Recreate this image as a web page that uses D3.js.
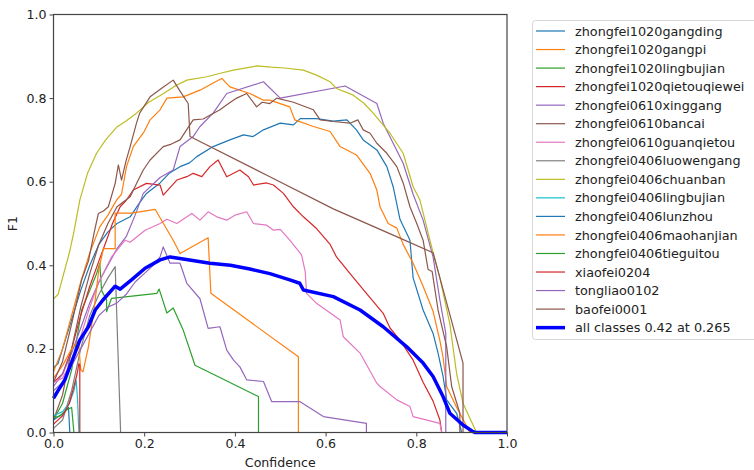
<!DOCTYPE html>
<html>
<head>
<meta charset="utf-8">
<script src="https://cdn.jsdelivr.net/npm/d3@7"></script>
<style>
  body { margin: 0; background: #fff; }
  text { font-family: "DejaVu Sans", sans-serif; }
</style>
</head>
<body>
<script>
// F1 - confidence curves, one per class + mean curve
const classNames = [
  "zhongfei1020gangding", "zhongfei1020gangpi", "zhongfei1020lingbujian", "zhongfei1020qietouqiewei",
  "zhongfei0610xinggang", "zhongfei0610bancai", "zhongfei0610guanqietou", "zhongfei0406luowengang",
  "zhongfei0406chuanban", "zhongfei0406lingbujian", "zhongfei0406lunzhou", "zhongfei0406maohanjian",
  "zhongfei0406tieguitou", "xiaofei0204", "tongliao0102", "baofei0001"
]
const allLabel = "all classes 0.42 at 0.265"

const gangding = [[0,0.155],[0.01,0.165],[0.02,0.2],[0.04,0.27],[0.06,0.34],[0.08,0.4],[0.1,0.45],[0.12,0.48],[0.14,0.5],[0.169,0.516],[0.19,0.55],[0.205,0.572],[0.235,0.597],[0.255,0.62],[0.279,0.636],[0.3,0.645],[0.316,0.66],[0.352,0.684],[0.389,0.70],[0.419,0.712],[0.44,0.708],[0.463,0.724],[0.5,0.74],[0.529,0.736],[0.544,0.751],[0.58,0.751],[0.617,0.745],[0.647,0.748],[0.668,0.724],[0.683,0.70],[0.713,0.676],[0.735,0.636],[0.749,0.588],[0.764,0.51],[0.779,0.476],[0.786,0.46],[0.793,0.37],[0.815,0.293],[0.837,0.237],[0.848,0.19],[0.859,0.134],[0.867,0.078],[0.889,0.046],[0.9,0],[1,0]]
const gangpi = [[0,0.145],[0.02,0.2],[0.04,0.28],[0.06,0.36],[0.08,0.43],[0.102,0.492],[0.12,0.52],[0.139,0.556],[0.15,0.57],[0.161,0.636],[0.176,0.684],[0.2,0.72],[0.213,0.748],[0.235,0.772],[0.25,0.8],[0.286,0.803],[0.323,0.819],[0.352,0.836],[0.371,0.847],[0.389,0.827],[0.433,0.811],[0.463,0.795],[0.477,0.795],[0.521,0.779],[0.532,0.748],[0.573,0.732],[0.61,0.72],[0.632,0.684],[0.668,0.664],[0.698,0.62],[0.713,0.58],[0.72,0.54],[0.738,0.5],[0.757,0.489],[0.771,0.45],[0.793,0.405],[0.815,0.35],[0.837,0.29],[0.852,0.22],[0.859,0.18],[0.867,0.11],[0.889,0.06],[0.911,0.015],[0.918,0],[1,0]]
const lingbujian = [[0,0.03],[0.02,0.07],[0.04,0.15],[0.062,0.293],[0.08,0.34],[0.095,0.38],[0.102,0.405],[0.106,0.34],[0.117,0.317],[0.117,0.289],[0.128,0.321],[0.228,0.333],[0.233,0.343],[0.25,0.286],[0.264,0.298],[0.286,0.245],[0.312,0.161],[0.452,0.086],[0.452,0],[1,0]]
const qietouqiewei = [[0,0.12],[0.02,0.14],[0.04,0.2],[0.06,0.28],[0.08,0.35],[0.1,0.41],[0.117,0.46],[0.13,0.5],[0.147,0.54],[0.16,0.555],[0.176,0.58],[0.205,0.596],[0.235,0.592],[0.242,0.568],[0.272,0.604],[0.294,0.612],[0.308,0.62],[0.327,0.612],[0.345,0.636],[0.363,0.652],[0.382,0.612],[0.411,0.628],[0.43,0.612],[0.441,0.592],[0.47,0.597],[0.485,0.592],[0.507,0.572],[0.529,0.54],[0.551,0.516],[0.58,0.488],[0.61,0.45],[0.624,0.42],[0.654,0.38],[0.69,0.333],[0.727,0.285],[0.742,0.25],[0.764,0.221],[0.793,0.173],[0.815,0.12],[0.837,0.075],[0.852,0.03],[0.856,0],[1,0]]
const xinggang = [[0,0.11],[0.02,0.14],[0.04,0.19],[0.06,0.25],[0.08,0.31],[0.1,0.36],[0.12,0.4],[0.14,0.44],[0.161,0.47],[0.18,0.52],[0.198,0.572],[0.235,0.61],[0.264,0.628],[0.279,0.684],[0.308,0.708],[0.323,0.732],[0.352,0.764],[0.382,0.811],[0.463,0.839],[0.5,0.8],[0.643,0.829],[0.713,0.787],[0.727,0.74],[0.771,0.644],[0.793,0.57],[0.815,0.508],[0.837,0.42],[0.852,0.317],[0.865,0.237],[0.865,0],[1,0]]
const bancai = [[0,0.03],[0.02,0.09],[0.04,0.2],[0.06,0.3],[0.08,0.38],[0.1,0.45],[0.12,0.5],[0.14,0.54],[0.169,0.564],[0.185,0.6],[0.198,0.628],[0.213,0.652],[0.242,0.684],[0.26,0.69],[0.279,0.70],[0.308,0.748],[0.33,0.75],[0.367,0.772],[0.39,0.79],[0.404,0.80],[0.426,0.811],[0.448,0.779],[0.46,0.79],[0.477,0.787],[0.492,0.80],[0.529,0.79],[0.573,0.772],[0.588,0.748],[0.617,0.744],[0.654,0.74],[0.671,0.748],[0.683,0.724],[0.698,0.716],[0.713,0.692],[0.735,0.668],[0.757,0.636],[0.771,0.597],[0.786,0.54],[0.801,0.5],[0.815,0.46],[0.826,0.39],[0.835,0.385],[0.848,0.293],[0.867,0.205],[0.878,0.11],[0.896,0.046],[0.896,0],[1,0]]
const guanqietou = [[0,0.12],[0.02,0.13],[0.04,0.17],[0.06,0.23],[0.08,0.3],[0.1,0.36],[0.128,0.42],[0.158,0.46],[0.169,0.455],[0.202,0.484],[0.235,0.5],[0.25,0.51],[0.272,0.5],[0.305,0.524],[0.323,0.508],[0.341,0.528],[0.36,0.516],[0.382,0.508],[0.4,0.52],[0.426,0.528],[0.441,0.5],[0.47,0.496],[0.485,0.484],[0.5,0.486],[0.521,0.46],[0.547,0.425],[0.555,0.385],[0.558,0.333],[0.58,0.309],[0.632,0.269],[0.639,0.229],[0.676,0.19],[0.713,0.118],[0.72,0.11],[0.757,0.078],[0.786,0.062],[0.793,0.038],[0.852,0.022],[0.856,0],[1,0]]
const luowengang = [[0,0.01],[0.02,0.03],[0.04,0.1],[0.06,0.2],[0.08,0.28],[0.1,0.33],[0.12,0.37],[0.136,0.397],[0.148,0],[1,0]]
const chuanban = [[0,0.32],[0.01,0.33],[0.02,0.37],[0.035,0.43],[0.045,0.48],[0.058,0.556],[0.075,0.62],[0.095,0.668],[0.115,0.70],[0.139,0.73],[0.16,0.745],[0.183,0.764],[0.21,0.79],[0.241,0.81],[0.27,0.83],[0.294,0.843],[0.338,0.851],[0.37,0.86],[0.397,0.867],[0.448,0.877],[0.48,0.874],[0.51,0.872],[0.551,0.867],[0.58,0.855],[0.61,0.839],[0.624,0.823],[0.661,0.807],[0.685,0.787],[0.705,0.764],[0.742,0.716],[0.771,0.668],[0.793,0.588],[0.808,0.556],[0.837,0.43],[0.852,0.37],[0.874,0.26],[0.889,0.14],[0.903,0.07],[0.92,0.03],[0.933,0],[1,0]]
const lingbujian0406 = [[0,0.04],[0.02,0.05],[0.035,0.07],[0.045,0.1],[0.05,0.125],[0.053,0.08],[0.056,0],[1,0]]
const lunzhou = [[0,0.03],[0.02,0.045],[0.033,0.06],[0.036,0],[1,0]]
const maohanjian = [[0,0.13],[0.02,0.16],[0.04,0.2],[0.055,0.22],[0.06,0.15],[0.065,0.145],[0.077,0.205],[0.09,0.3],[0.1,0.39],[0.11,0.44],[0.136,0.44],[0.136,0.525],[0.172,0.525],[0.224,0.534],[0.264,0.46],[0.279,0.428],[0.341,0.466],[0.347,0.333],[0.54,0.181],[0.54,0],[1,0]]
const tieguitou = [[0,0.035],[0.015,0.04],[0.03,0.055],[0.04,0.06],[0.045,0],[1,0]]
const xiaofei = [[0,0.02],[0.02,0.04],[0.035,0.07],[0.045,0.11],[0.052,0.14],[0.056,0.165],[0.058,0.16],[0.058,0],[1,0]]
const tongliao = [[0,0.1],[0.02,0.12],[0.04,0.16],[0.06,0.2],[0.08,0.24],[0.1,0.28],[0.12,0.3],[0.14,0.31],[0.16,0.33],[0.18,0.36],[0.2,0.38],[0.22,0.4],[0.235,0.42],[0.242,0.444],[0.257,0.405],[0.279,0.405],[0.294,0.357],[0.323,0.32],[0.341,0.249],[0.367,0.253],[0.382,0.197],[0.397,0.173],[0.411,0.157],[0.426,0.126],[0.463,0.122],[0.481,0.074],[0.543,0.074],[0.595,0.038],[0.69,0.022],[0.69,0],[1,0]]
const baofei = [[0,0.12],[0.02,0.17],[0.04,0.26],[0.062,0.365],[0.077,0.41],[0.09,0.48],[0.099,0.524],[0.11,0.53],[0.121,0.54],[0.136,0.596],[0.143,0.64],[0.15,0.604],[0.16,0.65],[0.169,0.684],[0.183,0.74],[0.19,0.764],[0.213,0.803],[0.24,0.825],[0.264,0.843],[0.28,0.815],[0.297,0.787],[0.301,0.708],[0.477,0.612],[0.617,0.535],[0.764,0.465],[0.837,0.43],[0.903,0.166],[0.903,0],[1,0]]
const allClasses = [[0,0.082],[0.01,0.1],[0.025,0.126],[0.047,0.189],[0.058,0.221],[0.077,0.253],[0.092,0.293],[0.109,0.317],[0.136,0.35],[0.147,0.343],[0.172,0.365],[0.202,0.393],[0.235,0.413],[0.257,0.42],[0.286,0.415],[0.345,0.405],[0.39,0.40],[0.433,0.391],[0.477,0.38],[0.521,0.365],[0.543,0.357],[0.551,0.341],[0.617,0.325],[0.676,0.293],[0.727,0.253],[0.779,0.205],[0.815,0.166],[0.837,0.134],[0.859,0.086],[0.874,0.046],[0.903,0.018],[0.925,0.002],[0.93,0],[1,0]]

const series = [gangding, gangpi, lingbujian, qietouqiewei, xinggang, bancai, guanqietou, luowengang,
  chuanban, lingbujian0406, lunzhou, maohanjian, tieguitou, xiaofei, tongliao, baofei]
const xTicks = [0, 0.2, 0.4, 0.6, 0.8, 1.0]
const yTicks = [0, 0.2, 0.4, 0.6, 0.8, 1.0]

const tab10 = ["#1f77b4", "#ff7f0e", "#2ca02c", "#d62728", "#9467bd", "#8c564b", "#e377c2", "#7f7f7f", "#bcbd22", "#17becf"]
const [width, height] = [754, 470]

const x = d3.scaleLinear().domain([0, 1]).range([53.5, 507])
const y = d3.scaleLinear().domain([0, 1]).range([432.5, 14.5])

const svg = d3.select("body").append("svg")
    .attr("width", width)
    .attr("height", height)

const line = d3.line().x(d => x(d[0])).y(d => y(d[1]))

// class curves
svg.append("g")
  .selectAll("path")
  .data(series)
  .join("path")
    .attr("d", line)
    .attr("fill", "none")
    .attr("stroke", (d, i) => tab10[i % 10])
    .attr("stroke-width", 1.2)
    .attr("stroke-linejoin", "round")

svg.append("path")
    .datum(allClasses)
    .attr("d", line)
    .attr("fill", "none")
    .attr("stroke", "#0000ff")
    .attr("stroke-width", 3.5)
    .attr("stroke-linejoin", "round")

// frame
svg.append("rect")
    .attr("x", x(0)).attr("y", y(1))
    .attr("width", x(1) - x(0)).attr("height", y(0) - y(1))
    .attr("fill", "none")
    .attr("stroke", "#444")
    .attr("stroke-width", 1.2)

const fmt = d3.format(".1f")
const xAxis = svg.append("g")
    .attr("transform", `translate(0,${y(0)})`)
    .call(d3.axisBottom(x).tickValues(xTicks).tickFormat(fmt).tickSize(4).tickPadding(3).tickSizeOuter(0))
const yAxis = svg.append("g")
    .attr("transform", `translate(${x(0)},0)`)
    .call(d3.axisLeft(y).tickValues(yTicks).tickFormat(fmt).tickSize(4).tickPadding(3).tickSizeOuter(0))

for (const ax of [xAxis, yAxis]) {
  ax.select(".domain").remove()
  ax.selectAll("line").attr("stroke", "#444")
  ax.selectAll("text").attr("fill", "#222").style("font-size", "12.6px").style("font-family", "DejaVu Sans")
}

svg.append("text")
    .attr("x", (x(0) + x(1)) / 2)
    .attr("y", 467)
    .attr("text-anchor", "middle")
    .attr("fill", "#222")
    .style("font-size", "12.6px")
    .text("Confidence")

svg.append("text")
    .attr("transform", `translate(17,${(y(0) + y(1)) / 2}) rotate(-90)`)
    .attr("text-anchor", "middle")
    .attr("fill", "#222")
    .style("font-size", "12.6px")
    .text("F1")

// legend
const legendItems = classNames.map((n, i) => ({ name: n, color: tab10[i % 10], w: 1.2 }))
legendItems.push({ name: allLabel, color: "#0000ff", w: 3.5 })

const legend = svg.append("g")
legend.append("rect")
    .attr("x", 532.5).attr("y", 20.5)
    .attr("width", 230).attr("height", 319)
    .attr("rx", 3)
    .attr("fill", "#fff")
    .attr("stroke", "#d6d6d6")

const rowH = 18.54
const item = legend.selectAll("g.item")
  .data(legendItems)
  .join("g")
    .attr("class", "item")
    .attr("transform", (d, i) => `translate(0,${31 + i * rowH})`)

item.append("line")
    .attr("x1", 536).attr("x2", 565)
    .attr("stroke", d => d.color)
    .attr("stroke-width", d => d.w)

item.append("text")
    .attr("x", 575)
    .attr("dy", "0.36em")
    .attr("fill", "#222")
    .style("font-size", "12.8px")
    .text(d => d.name)
</script>
</body>
</html>
